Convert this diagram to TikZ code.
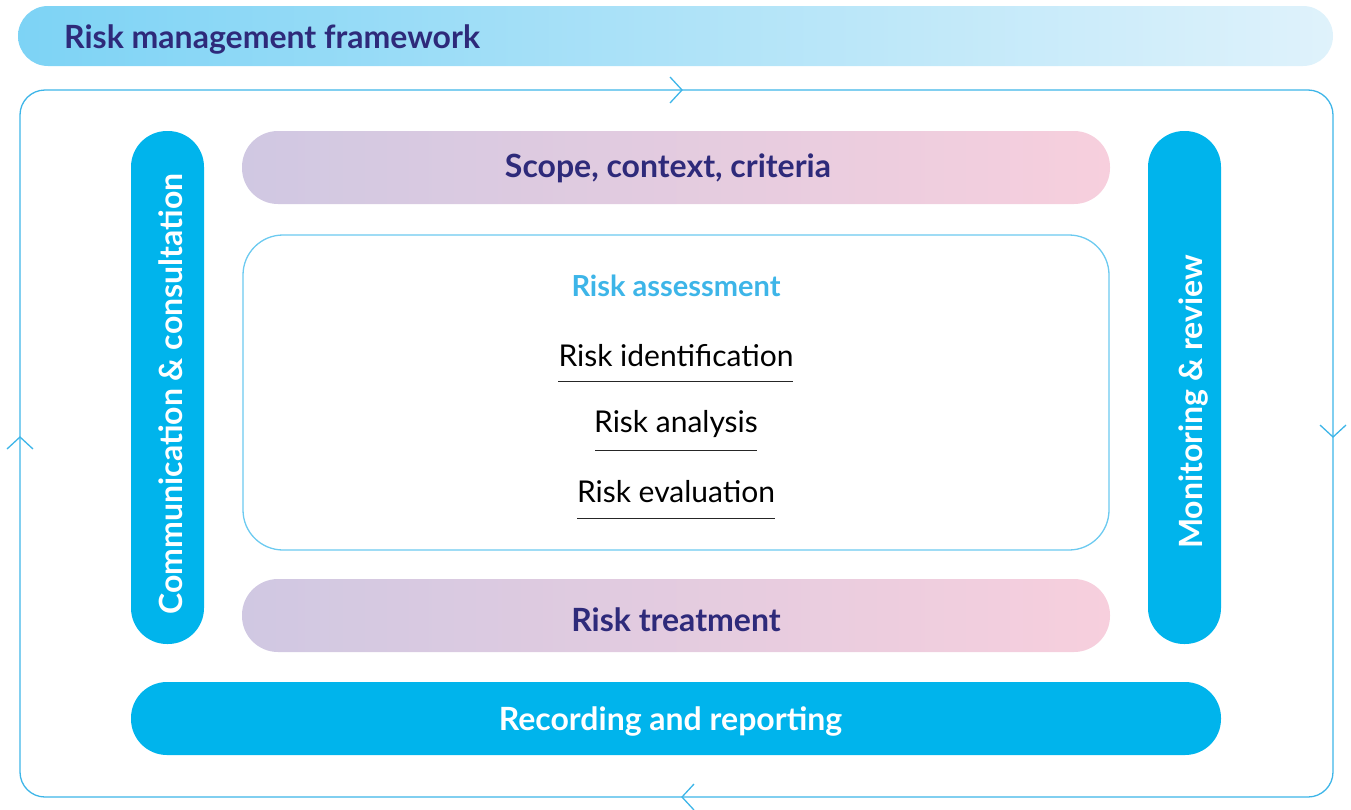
\documentclass[tikz,border=0pt]{standalone}
\usepackage{fontspec}
\setmainfont{Lato}
\usetikzlibrary{positioning,calc}
\definecolor{navy}{HTML}{2E2A7A}
\definecolor{cyanfill}{HTML}{00B4EC}
\definecolor{framec}{HTML}{3DB5E8}
\definecolor{boxline}{HTML}{6CCAF0}
\definecolor{lavender}{HTML}{D0C8E2}
\definecolor{pinkish}{HTML}{F7CFDD}
\definecolor{bannerL}{HTML}{7DD3F5}
\definecolor{bannerR}{HTML}{DFF2FB}
\definecolor{assess}{HTML}{3DB5E8}
\tikzset{
  pill/.style={rounded corners=36pt, minimum height=73pt, inner sep=0pt},
  bluepill/.style={pill, fill=cyanfill},
  gradpill/.style={pill, left color=lavender, right color=pinkish},
  boldtext/.style={font=\fontsize{32}{36}\selectfont\bfseries, inner sep=0pt, anchor=base},
  chev/.style={draw=framec, line width=1.3pt},
  stagetext/.style={font=\fontsize{30}{34}\selectfont, text=black, inner sep=0pt, anchor=base},
  uline/.style={draw=black!85, line width=1pt}
}
\begin{document}
\begin{tikzpicture}[x=1pt,y=-1pt]
\useasboundingbox (0,0) rectangle (1351,809);
% banner
\node[rounded corners=30pt, minimum width=1315pt, minimum height=60pt, inner sep=0pt, left color=bannerL, right color=bannerR] (banner) at (675.5,36) {};
\node[boldtext, anchor=base west, text=navy] (bannertext) at (64,48) {Risk management framework};
% outer frame
\draw[draw=framec, line width=1.3pt, rounded corners=25pt] (20,90) rectangle (1333,797);
\coordinate (ct) at (682,90);
\coordinate (cr) at (1333,437);
\coordinate (cb) at (682,797);
\coordinate (cl) at (20,437);
\draw[chev] ($(ct)+(-12,-13)$) -- (ct) -- ($(ct)+(-12,13)$);
\draw[chev] ($(cr)+(-13,-12)$) -- (cr) -- ($(cr)+(13,-12)$);
\draw[chev] ($(cb)+(12,-13)$) -- (cb) -- ($(cb)+(12,13)$);
\draw[chev] ($(cl)+(-13,12)$) -- (cl) -- ($(cl)+(13,12)$);
% side pills
\node[bluepill, rotate=90, minimum width=513pt] (comm) at (167.5,387.5) {};
\node[boldtext, text=white, rotate=90] (commt) at (182,394) {Communication \& consultation};
\node[bluepill, rotate=90, minimum width=513pt] (monit) at (1184.5,387.5) {};
\node[boldtext, text=white, rotate=90] (monitt) at (1202,402) {Monitoring \& review};
% scope, treatment
\node[gradpill, minimum width=868pt] (scope) at (676,167.5) {};
\node[boldtext, text=navy] (scopet) at (668,177) {Scope, context, criteria};
\node[gradpill, minimum width=868pt] (treat) at (676,615.5) {};
\node[boldtext, text=navy] (treatt) at (676,631) {Risk treatment};
% recording
\node[bluepill, minimum width=1090pt] (record) at (676,718.5) {};
\node[boldtext, text=white] (recordt) at (670.5,730) {Recording and reporting};
% assessment box
\node[draw=boxline, line width=1.3pt, rounded corners=40pt, minimum width=866pt, minimum height=315pt, inner sep=0pt] (assessbox) at (676,392.5) {};
\node[text=assess, font=\fontsize{29}{32}\selectfont\bfseries, inner sep=0pt, anchor=base] (assesst) at (676,296) {Risk assessment};
\node[stagetext] (ident) at (676,366) {Risk identification};
\node[stagetext] (anal) at (676,432) {Risk analysis};
\node[stagetext] (eval) at (676,502) {Risk evaluation};
\coordinate (u1a) at (558,381); \coordinate (u1b) at (793,381);
\coordinate (u2a) at (595,450); \coordinate (u2b) at (757,450);
\coordinate (u3a) at (577,518); \coordinate (u3b) at (775,518);
\draw[uline] (u1a) -- (u1b);
\draw[uline] (u2a) -- (u2b);
\draw[uline] (u3a) -- (u3b);
\end{tikzpicture}
\end{document}
